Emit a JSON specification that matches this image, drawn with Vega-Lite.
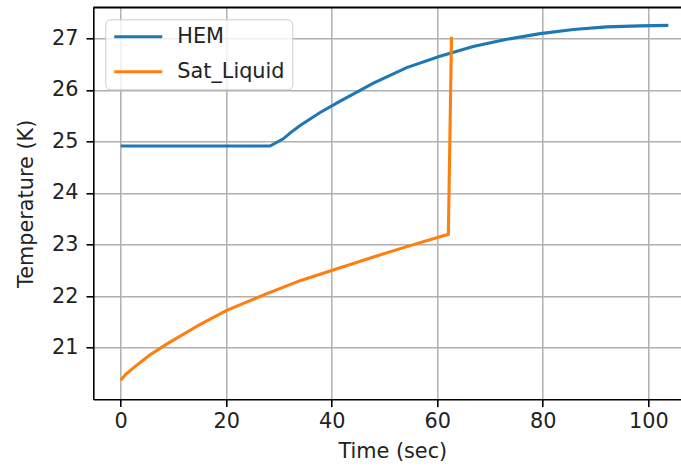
{
  "$schema": "https://vega.github.io/schema/vega-lite/v6.json",
  "width": 587.7,
  "height": 392,
  "autosize": {"type": "none"},
  "padding": {"left": 93.3, "top": 7.3, "right": 0, "bottom": 69.7},
  "background": "white",
  "config": {
    "view": {"stroke": null},
    "font": "DejaVu Sans"
  },
  "datasets": {
    "curves": [
      {"series": "HEM", "time": 0, "temp": 24.91},
      {"series": "HEM", "time": 10, "temp": 24.91},
      {"series": "HEM", "time": 20, "temp": 24.91},
      {"series": "HEM", "time": 28.3, "temp": 24.91},
      {"series": "HEM", "time": 30.8, "temp": 25.05},
      {"series": "HEM", "time": 32.2, "temp": 25.17},
      {"series": "HEM", "time": 34.0, "temp": 25.31},
      {"series": "HEM", "time": 37.8, "temp": 25.56},
      {"series": "HEM", "time": 41.6, "temp": 25.78},
      {"series": "HEM", "time": 47.9, "temp": 26.13},
      {"series": "HEM", "time": 54.2, "temp": 26.43},
      {"series": "HEM", "time": 60.5, "temp": 26.65},
      {"series": "HEM", "time": 66.8, "temp": 26.84},
      {"series": "HEM", "time": 73.2, "temp": 26.98},
      {"series": "HEM", "time": 79.5, "temp": 27.09},
      {"series": "HEM", "time": 85.8, "temp": 27.17},
      {"series": "HEM", "time": 92.1, "temp": 27.22},
      {"series": "HEM", "time": 98.4, "temp": 27.24},
      {"series": "HEM", "time": 103.8, "temp": 27.25},
      {"series": "Sat_Liquid", "time": 0, "temp": 20.37},
      {"series": "Sat_Liquid", "time": 1, "temp": 20.49},
      {"series": "Sat_Liquid", "time": 2.4, "temp": 20.61},
      {"series": "Sat_Liquid", "time": 5.5, "temp": 20.86},
      {"series": "Sat_Liquid", "time": 8.7, "temp": 21.07},
      {"series": "Sat_Liquid", "time": 15, "temp": 21.45},
      {"series": "Sat_Liquid", "time": 20, "temp": 21.72},
      {"series": "Sat_Liquid", "time": 27.7, "temp": 22.05},
      {"series": "Sat_Liquid", "time": 34, "temp": 22.30},
      {"series": "Sat_Liquid", "time": 41.6, "temp": 22.55},
      {"series": "Sat_Liquid", "time": 47.9, "temp": 22.76},
      {"series": "Sat_Liquid", "time": 54.2, "temp": 22.96},
      {"series": "Sat_Liquid", "time": 62.1, "temp": 23.20},
      {"series": "Sat_Liquid", "time": 62.7, "temp": 27.03}
    ]
  },
  "resolve": {"axis": {"x": "independent"}},
  "layer": [
    {
      "data": {"name": "curves"},
      "mark": {"type": "line", "strokeWidth": 3.1, "clip": true},
      "encoding": {
        "x": {
          "field": "time", "type": "quantitative",
          "scale": {"domain": [-5.2, 106.2], "nice": false, "zero": false},
          "axis": {
            "values": [0, 20, 40, 60, 80, 100],
            "title": "Time (sec)",
            "grid": true, "gridColor": "#b0b0b0", "gridWidth": 1.5,
            "domainColor": "black", "domainWidth": 1.6,
            "tickColor": "black", "tickWidth": 1.6, "tickSize": 7.3,
            "labelFontSize": 20.8, "labelColor": "#222", "labelPadding": 5,
            "labelFlush": false, "labelOverlap": false,
            "titleFontSize": 20.8, "titleFontWeight": "normal", "titleColor": "#222",
            "titlePadding": 10, "titleX": 299, "titleAlign": "center"
          }
        },
        "y": {
          "field": "temp", "type": "quantitative",
          "scale": {"domain": [20.0, 27.6], "nice": false, "zero": false},
          "axis": {
            "values": [21, 22, 23, 24, 25, 26, 27],
            "title": "Temperature (K)",
            "grid": true, "gridColor": "#b0b0b0", "gridWidth": 1.5,
            "domainColor": "black", "domainWidth": 1.6,
            "tickColor": "black", "tickWidth": 1.6, "tickSize": 7.3,
            "labelFontSize": 20.8, "labelColor": "#222", "labelPadding": 8,
            "labelFlush": false, "labelOverlap": false,
            "titleFontSize": 20.8, "titleFontWeight": "normal", "titleColor": "#222",
            "titlePadding": 15
          }
        },
        "color": {
          "field": "series", "type": "nominal",
          "scale": {"domain": ["HEM", "Sat_Liquid"], "range": ["#1f77b4", "#ff7f0e"]},
          "legend": {
            "orient": "top-left", "offset": 12, "title": null,
            "fillColor": "rgba(255,255,255,0.8)", "strokeColor": "#cccccc",
            "cornerRadius": 5, "padding": 7,
            "symbolType": "stroke", "symbolSize": 2304, "symbolStrokeWidth": 3.1,
            "clipHeight": 20.8, "labelFontSize": 20.8, "labelColor": "#222",
            "labelOffset": 13, "rowPadding": 13
          }
        }
      }
    },
    {
      "data": {"values": [{"x0": -5.2, "x1": 106.2, "ytop": 27.6}]},
      "mark": {"type": "rule", "stroke": "black", "strokeWidth": 1.6},
      "encoding": {
        "x": {
          "field": "x0", "type": "quantitative",
          "axis": {
            "orient": "top", "labels": false, "ticks": false, "grid": false,
            "title": null, "domain": true, "domainColor": "black", "domainWidth": 1.6
          }
        },
        "x2": {"field": "x1"},
        "y": {"field": "ytop", "type": "quantitative"}
      }
    }
  ]
}
